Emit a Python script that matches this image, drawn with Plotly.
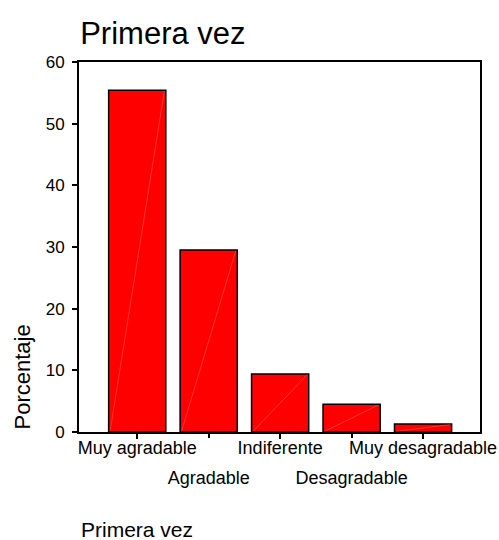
import plotly.graph_objects as go

categories = ["Muy agradable", "Agradable", "Indiferente", "Desagradable", "Muy desagradable"]
values = [55.4, 29.5, 9.4, 4.5, 1.3]
y_ticks = [0, 10, 20, 30, 40, 50, 60]

FONT = "Liberation Sans, Arial, sans-serif"
BAR_W = 0.8
pos = list(range(len(categories)))

fig = go.Figure()
fig.add_trace(go.Bar(
    x=pos, y=values, width=BAR_W,
    marker=dict(color="#ff0000", line=dict(color="black", width=1.5)),
    showlegend=False, hoverinfo="skip",
))
# faint diagonal render lines inside each bar
for i, v in zip(pos, values):
    fig.add_trace(go.Scatter(
        x=[i - BAR_W / 2 + 0.02, i + BAR_W / 2 - 0.02], y=[0.1, v - 0.1],
        mode="lines", line=dict(color="rgba(255,150,150,0.7)", width=0.5),
        showlegend=False, hoverinfo="skip",
    ))
# invisible trace for second x axis (staggered labels)
fig.add_trace(go.Scatter(x=[pos[1]], y=[0], xaxis="x2", mode="markers",
                         marker=dict(opacity=0), showlegend=False, hoverinfo="skip"))

xr = [-0.815, 4.797]
even = [i for i in pos if i % 2 == 0]
odd = [i for i in pos if i % 2 == 1]

fig.update_layout(
    width=499, height=540,
    margin=dict(l=79, r=19, t=62, b=108, autoexpand=False),
    paper_bgcolor="white", plot_bgcolor="white",
    font=dict(family=FONT, color="black", size=18),
    title=dict(text="Primera vez", x=0.003, xanchor="left", xref="paper",
               y=1 - 33 / 540, yanchor="middle", font=dict(size=31, family=FONT)),
    xaxis=dict(
        range=xr, tickmode="array", tickvals=even,
        ticktext=[categories[i] for i in even],
        showline=True, linecolor="black", linewidth=2, mirror=True,
        ticks="outside", ticklen=5, tickwidth=1.5, tickcolor="black",
        showgrid=False, zeroline=False, tickfont=dict(size=18),
        ticklabelstandoff=-7, automargin=False,
    ),
    xaxis2=dict(
        range=xr, overlaying="x", side="bottom", anchor="y",
        tickmode="array", tickvals=odd, ticktext=[categories[i] for i in odd],
        showline=False, ticks="outside", ticklen=5, tickwidth=1.5, tickcolor="black",
        showgrid=False, zeroline=False, tickfont=dict(size=18),
        ticklabelstandoff=24, automargin=False,
    ),
    yaxis=dict(
        range=[0, 60], tickmode="array", tickvals=y_ticks,
        showline=True, linecolor="black", linewidth=2, mirror=True,
        ticks="outside", ticklen=5, tickwidth=1.5, tickcolor="black",
        showgrid=False, zeroline=False, tickfont=dict(size=17),
        ticklabelstandoff=4, automargin=False,
    ),
    annotations=[
        dict(text="Porcentaje", textangle=-90, xref="paper", yref="paper",
             x=(22 - 79) / 401, y=0, xanchor="center", yanchor="bottom",
             showarrow=False, font=dict(size=22, family=FONT)),
        dict(text="Primera vez", xref="paper", yref="paper",
             x=0, y=-(529 - 432) / 370, xanchor="left", yanchor="middle",
             showarrow=False, font=dict(size=21, family=FONT)),
    ],
)

fig.write_html(
    "out.html",
    config={"displayModeBar": False},
    post_script="document.body.style.margin='0';document.body.style.overflow='hidden';",
)
